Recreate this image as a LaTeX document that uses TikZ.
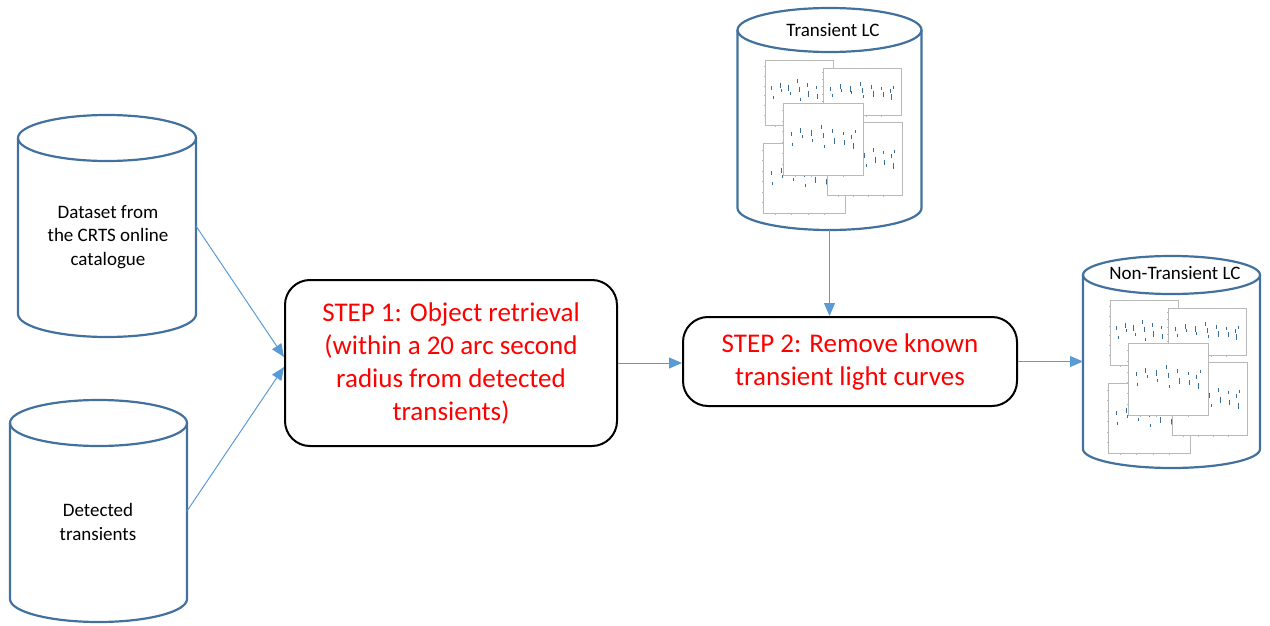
\documentclass[tikz,border=0pt]{standalone}
\usepackage{fontspec}
\setmainfont{Carlito}
\usetikzlibrary{calc,arrows.meta,positioning}
\definecolor{dbblue}{HTML}{41719C}
\definecolor{arrowblue}{HTML}{5B9BD5}
\definecolor{dotblue}{HTML}{3B6D99}
\tikzset{
  dbline/.style={dbblue,line width=2.2pt},
  dbbody/.style={inner sep=0pt,outer sep=0pt},
  dblabel/.style={align=center,font=\fontsize{19}{23.5}\selectfont},
  stepbox/.style={draw=black,line width=2pt,rounded corners=25pt,align=center,
    text=red,font=\fontsize{27}{33}\selectfont,inner sep=0pt},
  flow/.style={arrowblue,line width=1pt,-{Triangle[length=13pt,width=11pt]}},
  lcaxis/.style={gray!55,line width=.6pt},
  lcdot/.style={dotblue,line width=.8pt}
}
\newcommand{\dbcyl}[3]{% node, x radius, y radius
  \draw[dbline] ([yshift=-#3]#1.north) ellipse[x radius=#2,y radius=#3];
  \draw[dbline] ([yshift=-#3]#1.north west) -- ([yshift=#3]#1.south west)
    arc[start angle=180,end angle=360,x radius=#2,y radius=#3] -- ([yshift=-#3]#1.north east);
}
\newcommand{\lcpanel}[4]{% x, y, w, h
  \begin{scope}[shift={(#1,#2)}]
    \fill[white] (0,0) rectangle (#3,#4);
    \draw[lcaxis] (0,0) rectangle (#3,#4);
    \foreach \t in {0.1,0.25,...,0.9} \draw[lcaxis] (0,\t*#4) -- ++(-1.5,0);
    \foreach \t in {0.15,0.35,...,0.95} \draw[lcaxis] (\t*#3,#4) -- ++(0,1.5);
    \foreach \fx/\fy/\l in {0.10/0.40/4,0.12/0.55/3,0.22/0.35/5,0.24/0.45/3,0.35/0.38/6,
      0.37/0.50/3,0.48/0.30/4,0.50/0.42/5,0.52/0.58/3,0.62/0.36/4,0.64/0.48/6,
      0.75/0.40/3,0.77/0.52/5,0.86/0.44/4,0.88/0.56/6,0.90/0.38/3}
      \draw[lcdot] (\fx*#3,\fy*#4) -- ++(0,\l);
  \end{scope}}
\newcommand{\lcstack}[2]{% shift of the light curve thumbnails
  \begin{scope}[shift={(#1,#2)}]
    \lcpanel{765}{60}{68}{65}
    \lcpanel{823}{68}{78}{47}
    \lcpanel{763}{143}{82}{70}
    \lcpanel{827}{122}{75}{73}
    \lcpanel{783}{103}{80}{72}
  \end{scope}}
\begin{document}
\begin{tikzpicture}[x=1pt,y=-1pt]
\useasboundingbox (0,0) rectangle (1270,626);
% databases
\node[dbbody,minimum width=178pt,minimum height=222pt] (crts) at (107,226) {};
\node[dbbody,minimum width=177pt,minimum height=222pt] (detected) at (98.5,511) {};
\node[dbbody,minimum width=184pt,minimum height=222pt] (tlc) at (829.5,119) {};
\node[dbbody,minimum width=177pt,minimum height=212pt] (nlc) at (1171.5,362) {};
\dbcyl{crts}{89pt}{23pt}
\dbcyl{detected}{88.5pt}{23pt}
\dbcyl{tlc}{92pt}{22pt}
\dbcyl{nlc}{88.5pt}{19pt}
\node[dblabel] (crtstext) at (108,237) {Dataset from\\the CRTS online\\catalogue};
\node[dblabel] (detectedtext) at (98,522) {Detected\\transients};
\node[dblabel] (tlctext) at (833,30) {Transient LC};
\node[dblabel] (nlctext) at (1175,273) {Non-Transient LC};
\lcstack{0}{0}
\lcstack{345}{240}
% processing steps
\node[stepbox,minimum width=332pt,minimum height=166pt] (step1) at (451,363)
  {STEP 1: Object retrieval\\(within a 20 arc second\\radius from detected\\transients)};
\node[stepbox,minimum width=334pt,minimum height=89pt] (step2) at (850,361.5)
  {STEP 2: Remove known\\transient light curves};
% connectors
\draw[flow] (crts.east) -- ([yshift=6pt]step1.west);
\draw[flow] (detected.east) -- ([yshift=-4pt]step1.west);
\draw[flow] (step1.east) -- (step1.east -| step2.west);
\draw[flow] (tlc.south) -- (tlc.south |- step2.north);
\draw[flow] (step2.east) -- (step2.east -| nlc.west);
\end{tikzpicture}
\end{document}
